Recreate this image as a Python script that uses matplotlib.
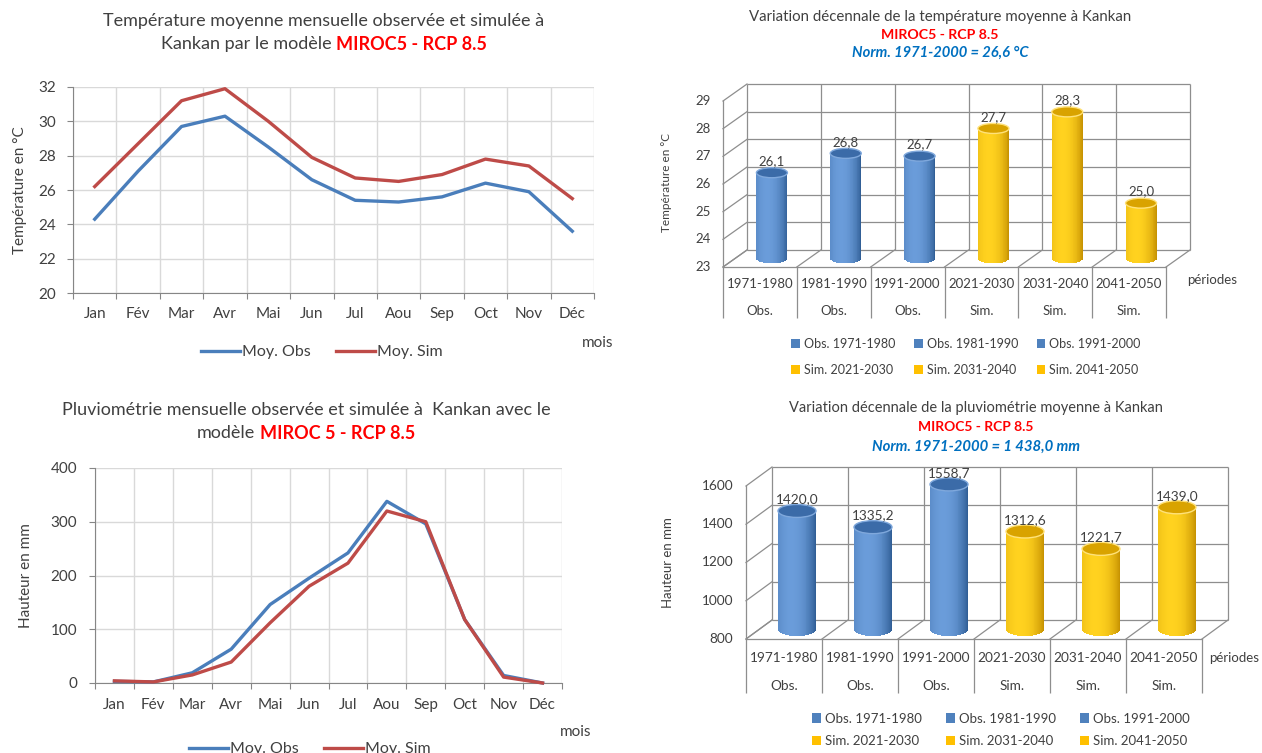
import numpy as np
import matplotlib
matplotlib.use("Agg")
import matplotlib.pyplot as plt
from matplotlib.patches import Ellipse, Patch

plt.rcParams['font.family'] = ['Lato', 'DejaVu Sans']

# monthly values (Kankan)
mois = ['Jan', 'Fév', 'Mar', 'Avr', 'Mai', 'Jun', 'Jul', 'Aou', 'Sep', 'Oct', 'Nov', 'Déc']
temp_obs = [24.3, 27.1, 29.7, 30.3, 28.5, 26.6, 25.4, 25.3, 25.6, 26.4, 25.9, 23.6]
temp_sim = [26.2, 28.7, 31.2, 31.9, 30.0, 27.9, 26.7, 26.5, 26.9, 27.8, 27.4, 25.5]
pluie_obs = [3, 2, 19, 63, 146, 195, 242, 338, 296, 118, 14, 0]
pluie_sim = [4, 2, 15, 39, 112, 180, 223, 320, 300, 118, 11, 0]

# decadal values
periodes = ['1971-1980', '1981-1990', '1991-2000', '2021-2030', '2031-2040', '2041-2050']
types = ['Obs.', 'Obs.', 'Obs.', 'Sim.', 'Sim.', 'Sim.']
temp_dec = [26.1, 26.8, 26.7, 27.7, 28.3, 25.0]
pluie_dec = [1420.0, 1335.2, 1558.7, 1312.6, 1221.7, 1439.0]

W, H = 1262, 753
fig = plt.figure(figsize=(W / 100, H / 100), dpi=100)

TXT = '#404040'
GRID = '#D9D9D9'
AXIS = '#868686'
GRID3D = '#8E8E8E'
BLUE_L = '#4A7EBB'
RED_L = '#BE4B48'
RED_T = '#FF0000'
BLUE_T = '#0070C0'


def px_rect(left, top, right, bottom):
    return [left / W, 1 - bottom / H, (right - left) / W, (bottom - top) / H]


def fx(x):
    return x / W


def fy(y):
    return 1 - y / H


def title_line(x, y, parts, gap=0.0):
    # lay out differently styled pieces side by side, centred on x
    texts = [fig.text(0, 0, s, va='center', ha='left', **kw) for s, kw in parts]
    r = fig.canvas.get_renderer()
    widths = [t.get_window_extent(r).width for t in texts]
    total = sum(widths) + gap * (len(texts) - 1)
    x0 = x - total / 2
    for t, w in zip(texts, widths):
        t.set_position((fx(x0), fy(y)))
        x0 += w + gap


def line_chart(rect, obs, sim, ymin, ymax, ystep, ylabel, lab_x, ypad, xpad):
    ax = fig.add_axes(px_rect(*rect))
    x = np.arange(len(mois)) + 0.5
    ax.plot(x, obs, color=BLUE_L, lw=2.4, label='Moy. Obs', clip_on=False, zorder=3)
    ax.plot(x, sim, color=RED_L, lw=2.4, label='Moy. Sim', clip_on=False, zorder=3)
    ax.set_xlim(0, 12)
    ax.set_ylim(ymin, ymax)
    ax.set_xticks(range(13))
    ax.set_xticklabels([])
    ax.set_xticks(x, minor=True)
    ax.set_xticklabels(mois, minor=True)
    ax.set_yticks(np.arange(ymin, ymax + ystep / 2, ystep))
    ax.tick_params(axis='x', which='minor', length=0, pad=xpad, labelsize=11, labelcolor=TXT)
    ax.tick_params(axis='x', which='major', length=4, color=AXIS)
    ax.tick_params(axis='y', length=4, color=AXIS, pad=ypad, labelsize=11, labelcolor=TXT)
    ax.grid(True, color=GRID, lw=1.0)
    ax.set_axisbelow(True)
    for s in ['top', 'right']:
        ax.spines[s].set_visible(False)
    for s in ['left', 'bottom']:
        ax.spines[s].set_color(AXIS)
    ax.set_ylabel(ylabel, fontsize=11, color=TXT)
    ax.yaxis.set_label_coords(lab_x, 0.5)
    return ax


def shade(t, dark, light):
    # lighter band slightly left of the cylinder axis
    f = np.clip(1 - ((t + 0.3) / 1.3) ** 2, 0, 1) ** 0.8
    dark = np.array(matplotlib.colors.to_rgb(dark))
    light = np.array(matplotlib.colors.to_rgb(light))
    return [tuple(dark + (light - dark) * v) for v in f]


def decade_chart(rect, depth, vals, ymin, ymax, ystep, cyl_w, ell_px, table_rows, table_h,
                 fs, colors):
    left, top, right, bottom = rect
    ax = fig.add_axes(px_rect(*rect))
    ax.set_xlim(0, 6)
    ax.set_ylim(ymin, ymax)
    ax.axis('off')
    upp = (ymax - ymin) / (bottom - top)       # value units per pixel
    xpp = 6 / (right - left)                    # category units per pixel
    ddx, ddy = depth[0] * xpp, depth[1] * upp
    n = len(vals)
    levels = np.arange(ymin, ymax + ystep / 2, ystep)
    gkw = dict(color=GRID3D, lw=0.9, clip_on=False, zorder=1)

    # back wall
    ax.hlines(levels + ddy, ddx, n + ddx, **gkw)
    ax.vlines(np.arange(n + 1) + ddx, ymin + ddy, ymax + ddy, **gkw)
    # side wall
    for lv in levels:
        ax.plot([0, ddx], [lv, lv + ddy], **gkw)
    ax.plot([0, 0], [ymin, ymax], **gkw)
    # floor
    for b in range(n + 1):
        ax.plot([b, b + ddx], [ymin, ymin + ddy], **gkw)
    ax.plot([0, n], [ymin, ymin], **gkw)
    # table under the floor
    ax.vlines(np.arange(n + 1), ymin - table_h * upp, ymin, **gkw)
    for i in range(n):
        ax.text(i + 0.5, ymin - table_rows[0] * upp, periodes[i], ha='center', va='center',
                fontsize=fs, color=TXT, clip_on=False)
        ax.text(i + 0.5, ymin - table_rows[1] * upp, types[i], ha='center', va='center',
                fontsize=fs, color=TXT, clip_on=False)
    for lv in levels:
        ax.annotate(f'{lv:.0f}', (0, lv), xytext=(-9, 0), textcoords='offset points',
                    ha='right', va='center', fontsize=fs, color=TXT, annotation_clip=False)

    # cylinders
    eh = ell_px * upp
    m = 40
    edges = np.linspace(-1, 1, m + 1)
    tc = (edges[:-1] + edges[1:]) / 2
    for i, v in enumerate(vals):
        dark, light, topc, rim = colors[types[i]]
        cx = i + 0.5 + ddx / 2
        base = ymin + ddy / 2
        top_v = v + ddy / 2
        bots = base - eh / 2 * np.sqrt(1 - tc ** 2)
        ax.bar(cx + tc * cyl_w / 2, top_v - bots, bottom=bots, width=cyl_w / m * 1.05,
               color=shade(tc, dark, light), lw=0, zorder=2, clip_on=False)
        ax.add_patch(Ellipse((cx, top_v), cyl_w, eh, facecolor=topc, edgecolor=rim,
                             lw=1.0, zorder=3, clip_on=False))
        ax.annotate(f'{v:.1f}'.replace('.', ','), (cx, top_v), xytext=(0, 4),
                    textcoords='offset points', ha='center', va='bottom', fontsize=fs,
                    color=TXT, annotation_clip=False)
    return ax


cyl_colors = {
    'Obs.': ('#2C5A91', '#6A9CDA', '#3B6BA8', '#7FA8DC'),
    'Sim.': ('#C38E00', '#FFD21F', '#D9A300', '#FFE27A'),
}

# ---- monthly temperature ----
title_line(324, 21, [('Température moyenne mensuelle observée et simulée à',
                      dict(color=TXT, fontsize=13))])
title_line(324, 44, [('Kankan par le modèle', dict(color=TXT, fontsize=13)),
                     ('MIROC5 - RCP 8.5', dict(color=RED_T, fontweight='bold', fontsize=13))],
           gap=4)
ax1 = line_chart((73, 87, 594, 293), temp_obs, temp_sim, 20, 32, 2, 'Température en °C',
                 -0.089, 8, 10)
ax1.legend(loc='center', bbox_to_anchor=(fx(322), fy(352)), bbox_transform=fig.transFigure,
           ncol=2, frameon=False, fontsize=11.5, handlelength=2.4, handletextpad=0.15,
           columnspacing=1.6, labelcolor=TXT)
fig.text(fx(598), fy(343), 'mois', fontsize=11, color=TXT, ha='center', va='center')

# ---- monthly rainfall ----
title_line(306, 410, [('Pluviométrie mensuelle observée et simulée à  Kankan avec le',
                       dict(color=TXT, fontsize=13))])
title_line(306, 433, [('modèle', dict(color=TXT, fontsize=13)),
                      ('MIROC 5 - RCP 8.5', dict(color=RED_T, fontweight='bold', fontsize=13))],
           gap=4)
ax3 = line_chart((95, 468, 562, 683), pluie_obs, pluie_sim, 0, 400, 100, 'Hauteur en mm',
                 -0.133, 9, 11)
ax3.legend(loc='center', bbox_to_anchor=(fx(310), fy(749)), bbox_transform=fig.transFigure,
           ncol=2, frameon=False, fontsize=11.5, handlelength=2.4, handletextpad=0.15,
           columnspacing=1.6, labelcolor=TXT)
fig.text(fx(576), fy(732), 'mois', fontsize=11, color=TXT, ha='center', va='center')

# ---- decadal temperature ----
title_line(940, 17, [('Variation décennale de la température moyenne à Kankan',
                      dict(color=TXT, fontsize=10.8))])
title_line(940, 35, [('MIROC5 - RCP 8.5', dict(color=RED_T, fontweight='bold', fontsize=10.2))])
title_line(940, 53, [('Norm. 1971-2000 = 26,6 °C',
                      dict(color=BLUE_T, fontweight='bold', style='italic', fontsize=10.6))])
decade_chart((723, 101, 1166, 267), (24, 17), temp_dec, 23, 29, 1, 0.42, 10, (17, 44), 51,
             9.5, cyl_colors)
fig.text(fx(667), fy(183), 'Température en °C', rotation=90, fontsize=8.5, color=TXT,
         ha='center', va='center')
fig.text(fx(1212), fy(280), 'périodes', fontsize=9.5, color=TXT, ha='center', va='center')

# ---- decadal rainfall ----
title_line(976, 408, [('Variation décennale de la pluviométrie moyenne à Kankan',
                       dict(color=TXT, fontsize=10.5))])
title_line(976, 427, [('MIROC5 - RCP 8.5', dict(color=RED_T, fontweight='bold', fontsize=10))])
title_line(976, 447, [('Norm. 1971-2000 = 1 438,0 mm',
                       dict(color=BLUE_T, fontweight='bold', style='italic', fontsize=10.7))])
decade_chart((746, 486, 1202, 639), (26, 19), pluie_dec, 800, 1600, 200, 0.5, 13, (19, 47), 54,
             9.8, cyl_colors)
fig.text(fx(668), fy(563), 'Hauteur en mm', rotation=90, fontsize=9.5, color=TXT,
         ha='center', va='center')
fig.text(fx(1234), fy(658), 'périodes', fontsize=9.5, color=TXT, ha='center', va='center')

# legends of the decadal charts (column-major order: Obs over Sim)
handles, labels = [], []
for i in range(3):
    for j in (i, i + 3):
        c = '#4F81BD' if types[j] == 'Obs.' else '#FFC000'
        handles.append(Patch(facecolor=c, edgecolor='none'))
        labels.append(f'{types[j]} {periodes[j]}')

fig.legend(handles, labels, ncol=3, loc='center', bbox_to_anchor=(fx(966), fy(357)),
           frameon=False, fontsize=9, handlelength=0.7, handleheight=0.7, handletextpad=0.3,
           columnspacing=1.5, labelspacing=1.1, labelcolor=TXT)
fig.legend(handles, labels, ncol=3, loc='center', bbox_to_anchor=(fx(1001), fy(730)),
           frameon=False, fontsize=9.5, handlelength=0.7, handleheight=0.7, handletextpad=0.3,
           columnspacing=1.8, labelspacing=0.8, labelcolor=TXT)

fig.savefig('out.png', dpi=100)
